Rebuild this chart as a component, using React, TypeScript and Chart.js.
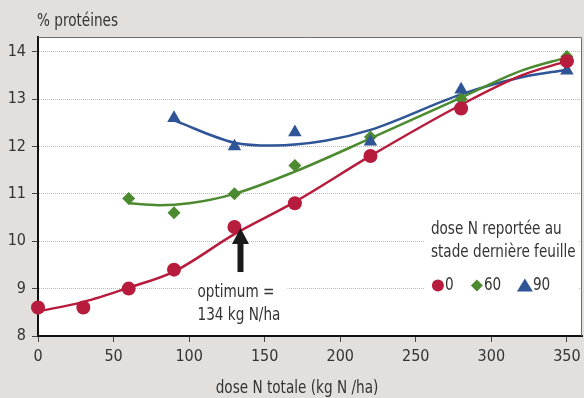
import React, { useEffect, useRef } from 'react';
import { Chart, registerables } from 'chart.js';
Chart.register(...registerables);

// ---- data ----
const xTickValues = [0, 50, 100, 150, 200, 250, 300, 350];
const yTickValues = [8, 9, 10, 11, 12, 13, 14];

const dose0X = [0, 30, 60, 90, 130, 170, 220, 280, 350];
const dose0Y = [8.6, 8.6, 9.0, 9.4, 10.3, 10.8, 11.8, 12.8, 13.8];
const dose60X = [60, 90, 130, 170, 220, 280, 350];
const dose60Y = [10.9, 10.6, 11.0, 11.6, 12.2, 13.0, 13.9];
const dose90X = [90, 130, 170, 220, 280, 350];
const dose90Y = [12.6, 12.0, 12.3, 12.1, 13.2, 13.6];

// fitted curves
const curve0X = [0, 30, 60, 90, 130, 170, 220, 280, 320, 350];
const curve0Y = [8.52, 8.72, 9.02, 9.36, 10.15, 10.83, 11.8, 12.88, 13.5, 13.8];
const curve60X = [60, 80, 100, 130, 170, 220, 280, 320, 350];
const curve60Y = [10.8, 10.76, 10.8, 11.0, 11.47, 12.17, 13.03, 13.6, 13.88];
const curve90X = [90, 130, 155, 190, 220, 280, 320, 350];
const curve90Y = [12.55, 12.08, 12.02, 12.12, 12.35, 13.1, 13.46, 13.62];

const seriesLabels = ['0', '60', '90'];
const legendTitle = ['dose N reportée au', 'stade dernière feuille'];
const optimumDose = 134;
const optimumArrowFrom = 9.35;
const optimumArrowTo = 10.28;
const optimumText = ['optimum =', '134 kg N/ha'];
const yTitle = '% protéines';
const xTitle = 'dose N totale (kg N /ha)';

// ---- styles ----
const RED = '#b71c3c';
const GREEN = '#4c8a2f';
const BLUE = '#2f5597';
const BG = '#e3dfdc';
const TEXT = '#333333';
const FONT = '"Liberation Sans Narrow", "DejaVu Sans Condensed", "Roboto Condensed", "Arial Narrow", sans-serif';
const SQUEEZE = 0.89;

const pts = (xs: number[], ys: number[]) => xs.map((x, i) => ({ x, y: ys[i] }));

function text(ctx: CanvasRenderingContext2D, s: string, x: number, y: number, align: CanvasTextAlign = 'left', squeeze = SQUEEZE) {
  ctx.save();
  ctx.translate(x, y);
  ctx.scale(squeeze, 1);
  ctx.textAlign = align;
  ctx.textBaseline = 'middle';
  ctx.fillText(s, 0, 0);
  ctx.restore();
}

export default function App() {
  const ref = useRef<HTMLCanvasElement | null>(null);

  useEffect(() => {
    document.body.style.margin = '0';
    const canvas = ref.current!;

    const decor = {
      id: 'decor',
      beforeDraw(chart: any) {
        const { ctx, chartArea: a } = chart;
        ctx.save();
        ctx.fillStyle = '#ffffff';
        ctx.fillRect(a.left, a.top, a.right - a.left, a.bottom - a.top);
        ctx.restore();
      },
      beforeDatasetsDraw(chart: any) {
        const { ctx, scales } = chart;
        const x = scales.x, y = scales.y;
        ctx.save();
        ctx.fillStyle = '#ffffff';
        const ax = x.getPixelForValue(optimumDose);
        const y9 = y.getPixelForValue(9);
        ctx.fillRect(ax - 47, y9 - 12, 94, 46);
        const lx = x.getPixelForValue(260);
        ctx.fillRect(lx - 6, y.getPixelForValue(10.5), chart.chartArea.right - 4 - (lx - 6), y.getPixelForValue(8.75) - y.getPixelForValue(10.5));
        ctx.restore();
      },
      afterDatasetsDraw(chart: any) {
        const { ctx, scales } = chart;
        const x = scales.x, y = scales.y;
        ctx.save();
        const ax = x.getPixelForValue(optimumDose);
        const tip = y.getPixelForValue(optimumArrowTo);
        const tail = y.getPixelForValue(optimumArrowFrom);
        ctx.fillStyle = '#1a1a1a';
        ctx.fillRect(ax - 3, tip + 14, 6, tail - tip - 14);
        ctx.beginPath();
        ctx.moveTo(ax, tip);
        ctx.lineTo(ax + 8.5, tip + 16);
        ctx.lineTo(ax - 8.5, tip + 16);
        ctx.closePath();
        ctx.fill();

        ctx.fillStyle = TEXT;
        ctx.font = `17px ${FONT}`;
        const y9 = y.getPixelForValue(9);
        text(ctx, optimumText[0], ax - 43, y9 + 4);
        text(ctx, optimumText[1], ax - 43, y9 + 27);

        const lx = x.getPixelForValue(260);
        const ly = y.getPixelForValue(10.25);
        text(ctx, legendTitle[0], lx, ly);
        text(ctx, legendTitle[1], lx, ly + 23);
        const ry = ly + 56;
        ctx.fillStyle = RED;
        ctx.beginPath();
        ctx.arc(lx + 7, ry, 6, 0, Math.PI * 2);
        ctx.fill();
        ctx.fillStyle = TEXT;
        text(ctx, seriesLabels[0], lx + 14, ry);
        const gx = lx + 46;
        ctx.fillStyle = GREEN;
        ctx.beginPath();
        ctx.moveTo(gx, ry - 6);
        ctx.lineTo(gx + 6, ry);
        ctx.lineTo(gx, ry + 6);
        ctx.lineTo(gx - 6, ry);
        ctx.closePath();
        ctx.fill();
        ctx.fillStyle = TEXT;
        text(ctx, seriesLabels[1], gx + 7, ry);
        const bx = lx + 94;
        ctx.fillStyle = BLUE;
        ctx.beginPath();
        ctx.moveTo(bx, ry - 7);
        ctx.lineTo(bx + 8, ry + 6);
        ctx.lineTo(bx - 8, ry + 6);
        ctx.closePath();
        ctx.fill();
        ctx.fillStyle = TEXT;
        text(ctx, seriesLabels[2], bx + 8, ry);
        ctx.restore();
      },
      afterDraw(chart: any) {
        const { ctx, chartArea: a, scales } = chart;
        ctx.save();
        ctx.strokeStyle = '#6e6e6e';
        ctx.lineWidth = 1;
        ctx.beginPath();
        ctx.moveTo(a.left, a.top + 0.5);
        ctx.lineTo(a.right - 0.5, a.top + 0.5);
        ctx.lineTo(a.right - 0.5, a.bottom);
        ctx.stroke();
        ctx.fillStyle = TEXT;
        ctx.font = `16px ${FONT}`;
        xTickValues.forEach((v) => text(ctx, String(v), scales.x.getPixelForValue(v), a.bottom + 21, 'center', 1));
        ctx.font = `17px ${FONT}`;
        text(ctx, yTitle, a.left - 1, 22);
        text(ctx, xTitle, 297, 389, 'center');
        ctx.restore();
      },
    };

    const chart = new Chart(canvas, {
      type: 'scatter',
      data: {
        datasets: [
          { label: 'c0', data: pts(curve0X, curve0Y), showLine: true, borderColor: RED, borderWidth: 2.5, pointRadius: 0, cubicInterpolationMode: 'monotone', order: 2, clip: false } as any,
          { label: 'c60', data: pts(curve60X, curve60Y), showLine: true, borderColor: GREEN, borderWidth: 2.5, pointRadius: 0, cubicInterpolationMode: 'monotone', order: 2, clip: false } as any,
          { label: 'c90', data: pts(curve90X, curve90Y), showLine: true, borderColor: BLUE, borderWidth: 2.5, pointRadius: 0, cubicInterpolationMode: 'monotone', order: 2, clip: false } as any,
          { label: seriesLabels[0], data: pts(dose0X, dose0Y), pointStyle: 'circle', pointRadius: 7, backgroundColor: RED, borderColor: RED, borderWidth: 0, order: 1, clip: false } as any,
          { label: seriesLabels[2], data: pts(dose90X, dose90Y), pointStyle: 'triangle', pointRadius: 7.8, backgroundColor: BLUE, borderColor: BLUE, borderWidth: 0, order: 1, clip: false } as any,
          { label: seriesLabels[1], data: pts(dose60X, dose60Y), pointStyle: 'rectRot', pointRadius: 6.5, backgroundColor: GREEN, borderColor: GREEN, borderWidth: 0, order: 1, clip: false } as any,
        ],
      },
      options: {
        animation: false,
        responsive: false,
        devicePixelRatio: 1,
        layout: { autoPadding: false, padding: { top: 37, right: 2, left: 0, bottom: 0 } } as any,
        plugins: { legend: { display: false }, tooltip: { enabled: false } },
        scales: {
          x: {
            type: 'linear',
            min: 0,
            max: 360,
            afterFit: (s: any) => { s.height = 62; s.paddingLeft = 0; s.paddingRight = 0; },
            afterBuildTicks: (s: any) => { s.ticks = xTickValues.map((v) => ({ value: v })); },
            ticks: { display: false, padding: 0 },
            grid: { drawOnChartArea: false, drawTicks: true, tickLength: 6, tickColor: '#444', tickWidth: 1 },
            border: { color: '#111', width: 2 },
          },
          y: {
            type: 'linear',
            min: 8,
            max: 14.31,
            afterFit: (s: any) => { s.width = 38; },
            afterBuildTicks: (s: any) => { s.ticks = yTickValues.map((v) => ({ value: v })); },
            ticks: { color: TEXT, font: { family: FONT, size: 16 }, padding: 6 },
            grid: { color: '#b8b8b8', lineWidth: 1, drawTicks: true, tickLength: 6, tickColor: '#444', tickWidth: 1, tickBorderDash: [] } as any,
            border: { color: '#111', width: 2, dash: [1, 1] },
          },
        },
      },
      plugins: [decor],
    });
    return () => chart.destroy();
  }, []);

  return (
    <div style={{ position: 'absolute', left: 0, top: 0, width: 584, height: 398, background: BG }}>
      <canvas ref={ref} width={584} height={398} style={{ display: 'block' }} />
    </div>
  );
}
